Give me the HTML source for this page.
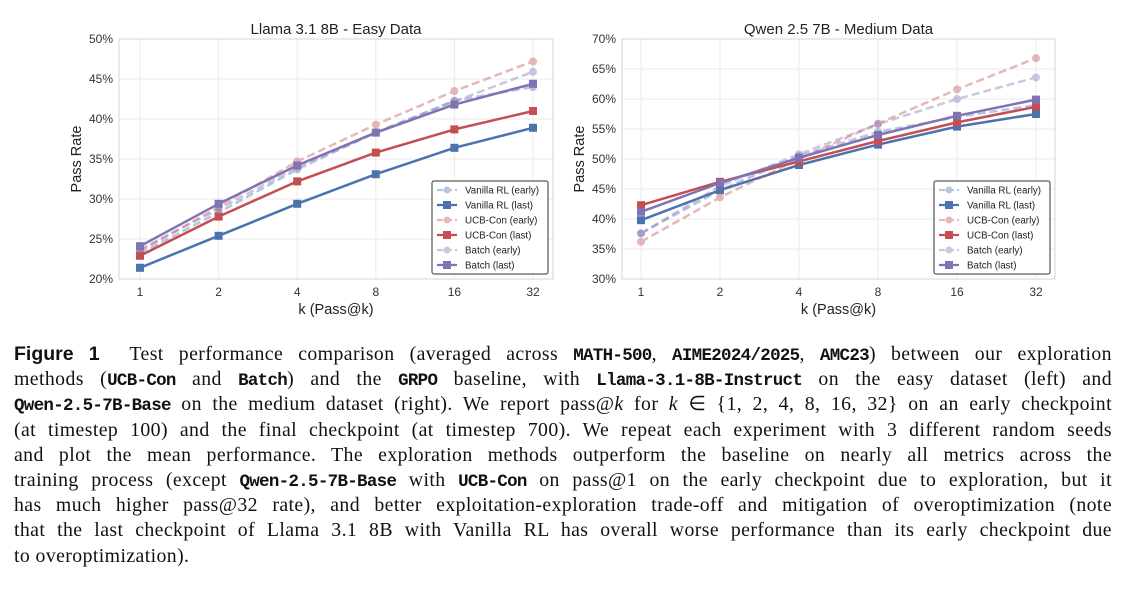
<!DOCTYPE html>
<html><head><meta charset="utf-8">
<style>
body{margin:0;width:1133px;height:589px;background:#fff;overflow:hidden;position:relative;font-family:"Liberation Sans",sans-serif}
#cap{position:absolute;left:14px;top:342px;width:1098px;font-family:"Liberation Serif",serif;font-size:19.8px;letter-spacing:0.4px;color:#111}
#cap div{height:25.2px;line-height:25.2px;text-align:justify;text-align-last:justify;white-space:nowrap}
#cap div.last{text-align-last:left}
#cap .m{font-family:"Liberation Mono",monospace;font-size:17.5px;font-weight:bold;letter-spacing:-0.7px}
#cap b.f{font-family:"Liberation Sans",sans-serif;font-size:19.5px;letter-spacing:0}
</style></head><body>
<svg id="chart" width="1133" height="330" style="position:absolute;left:0;top:0"></svg>
<div id="cap">
<div><b class="f">Figure 1</b>&nbsp; Test performance comparison (averaged across <span class="m">MATH-500</span>, <span class="m">AIME2024/2025</span>, <span class="m">AMC23</span>) between our exploration</div>
<div>methods (<span class="m">UCB-Con</span> and <span class="m">Batch</span>) and the <span class="m">GRPO</span> baseline, with <span class="m">Llama-3.1-8B-Instruct</span> on the easy dataset (left) and</div>
<div><span class="m">Qwen-2.5-7B-Base</span> on the medium dataset (right). We report pass@<i>k</i> for <i>k</i> ∈ {1, 2, 4, 8, 16, 32} on an early checkpoint</div>
<div>(at timestep 100) and the final checkpoint (at timestep 700). We repeat each experiment with 3 different random seeds</div>
<div>and plot the mean performance. The exploration methods outperform the baseline on nearly all metrics across the</div>
<div>training process (except <span class="m">Qwen-2.5-7B-Base</span> with <span class="m">UCB-Con</span> on pass@1 on the early checkpoint due to exploration, but it</div>
<div>has much higher pass@32 rate), and better exploitation-exploration trade-off and mitigation of overoptimization (note</div>
<div>that the last checkpoint of Llama 3.1 8B with Vanilla RL has overall worse performance than its early checkpoint due</div>
<div class="last">to overoptimization).</div>
</div>
<script>
const categories=["1","2","4","8","16","32"];
const seriesNames=["Vanilla RL (early)","Vanilla RL (last)","UCB-Con (early)","UCB-Con (last)","Batch (early)","Batch (last)"];
const leftVanillaEarly=[23.2,28.3,33.7,38.3,42.3,44.0];
const leftVanillaLast=[21.4,25.4,29.4,33.1,36.4,38.9];
const leftUcbEarly=[23.5,29.0,34.7,39.3,43.5,47.2];
const leftUcbLast=[22.9,27.8,32.2,35.8,38.7,41.0];
const leftBatchEarly=[23.7,28.7,34.0,38.3,42.2,45.9];
const leftBatchLast=[24.1,29.4,34.2,38.3,41.8,44.4];
const rightVanillaEarly=[37.6,44.8,50.5,54.5,57.0,59.0];
const rightVanillaLast=[39.8,44.8,49.0,52.4,55.4,57.5];
const rightUcbEarly=[36.2,43.6,50.0,55.9,61.6,66.8];
const rightUcbLast=[42.3,46.2,49.6,53.0,56.1,58.7];
const rightBatchEarly=[37.6,45.5,50.8,55.8,60.0,63.6];
const rightBatchLast=[41.2,46.0,50.2,54.0,57.2,59.9];
const leftTicks=[20,25,30,35,40,45,50];
const rightTicks=[30,35,40,45,50,55,60,65,70];

const NS="http://www.w3.org/2000/svg";
const svg=document.getElementById('chart');
function mk(t,a,p){const e=document.createElementNS(NS,t);for(const k in a)e.setAttribute(k,a[k]);(p||svg).appendChild(e);return e;}
const colors=["#4c72b0","#4c72b0","#c44e52","#c44e52","#8172b3","#8172b3"];

function panel(cfg){
  const g=mk('g',{});
  
  
  const {x0,x1,y0,y1,xa,xb,ymin,ymax}=cfg;
  const X=i=>xa+(xb-xa)*i/(categories.length-1);
  const Y=v=>y1-(v-ymin)/(ymax-ymin)*(y1-y0);
  cfg.ticks.forEach(t=>{
    const l=mk('line',{x1:x0,x2:x1,y1:Y(t),y2:Y(t),stroke:'#ebebeb','stroke-width':1},g);
    
    const tx=mk('text',{x:x0-6,y:Y(t)+4,'text-anchor':'end','font-size':12,fill:'#333'},g);
    tx.textContent=t+'%';
    
  });
  categories.forEach((c,i)=>{
    const l=mk('line',{x1:X(i),x2:X(i),y1:y0,y2:y1,stroke:'#ebebeb','stroke-width':1},g);
    
    const tx=mk('text',{x:X(i),y:y1+17,'text-anchor':'middle','font-size':12,fill:'#333'},g);
    tx.textContent=c;
    
  });
  const fr=mk('rect',{x:x0,y:y0,width:x1-x0,height:y1-y0,fill:'none',stroke:'#d4d4d4','stroke-width':1},g);
  
  const tt=mk('text',{x:(x0+x1)/2,y:y0-5,'text-anchor':'middle','font-size':15,fill:'#222'},g);
  tt.textContent=cfg.title;
  
  const xl=mk('text',{x:(x0+x1)/2,y:y1+35,'text-anchor':'middle','font-size':14.5,fill:'#222'},g);
  xl.textContent='k (Pass@k)';
  
  const yx=x0-38,yy=(y0+y1)/2;
  const yl=mk('text',{x:yx,y:yy,'text-anchor':'middle','font-size':14.5,fill:'#222',transform:`rotate(-90 ${yx} ${yy})`},g);
  yl.textContent='Pass Rate';
  
  cfg.series.forEach((s,si)=>{
    const early=si%2===0;
    const sg=mk('g',{opacity:early?0.4:1},g);
    
    
    const pts=s.map((v,i)=>X(i)+','+Y(v)).join(' ');
    mk('polyline',{points:pts,fill:'none',stroke:colors[si],'stroke-width':2.5,'stroke-dasharray':early?'8,4':'none'},sg);
    s.forEach((v,i)=>{
      let m;
      if(early) m=mk('circle',{cx:X(i),cy:Y(v),r:4,fill:colors[si]},sg);
      else m=mk('rect',{x:X(i)-4,y:Y(v)-4,width:8,height:8,fill:colors[si]},sg);
      
    });
  });
  const lx=cfg.lx,ly=181;
  const lg=mk('g',{},g);
  
  mk('rect',{x:lx,y:ly,width:116,height:93,fill:'#fff',stroke:'#333','stroke-width':1,rx:2},lg);
  seriesNames.forEach((n,si)=>{
    const early=si%2===0;const cy=ly+9+15*si;
    const eg=mk('g',{opacity:early?0.4:1},lg);
    
    mk('line',{x1:lx+5,x2:lx+25,y1:cy,y2:cy,stroke:colors[si],'stroke-width':2.2,'stroke-dasharray':early?'6,3':'none'},eg);
    if(early)mk('circle',{cx:lx+15,cy:cy,r:3.5,fill:colors[si]},eg);
    else mk('rect',{x:lx+11,y:cy-4,width:8,height:8,fill:colors[si]},eg);
    const t=mk('text',{x:lx+33,y:cy+3.5,'font-size':9.8,fill:'#222'},lg);
    t.textContent=n;
    
  });
}
panel({name:'left-chart',title:'Llama 3.1 8B - Easy Data',x0:119,x1:553,y0:39,y1:279,xa:140,xb:533,ymin:20,ymax:50,ticks:leftTicks,lx:432,
  series:[leftVanillaEarly,leftVanillaLast,leftUcbEarly,leftUcbLast,leftBatchEarly,leftBatchLast]});
panel({name:'right-chart',title:'Qwen 2.5 7B - Medium Data',x0:622,x1:1055,y0:39,y1:279,xa:641,xb:1036,ymin:30,ymax:70,ticks:rightTicks,lx:934,
  series:[rightVanillaEarly,rightVanillaLast,rightUcbEarly,rightUcbLast,rightBatchEarly,rightBatchLast]});
</script>
</body></html>
